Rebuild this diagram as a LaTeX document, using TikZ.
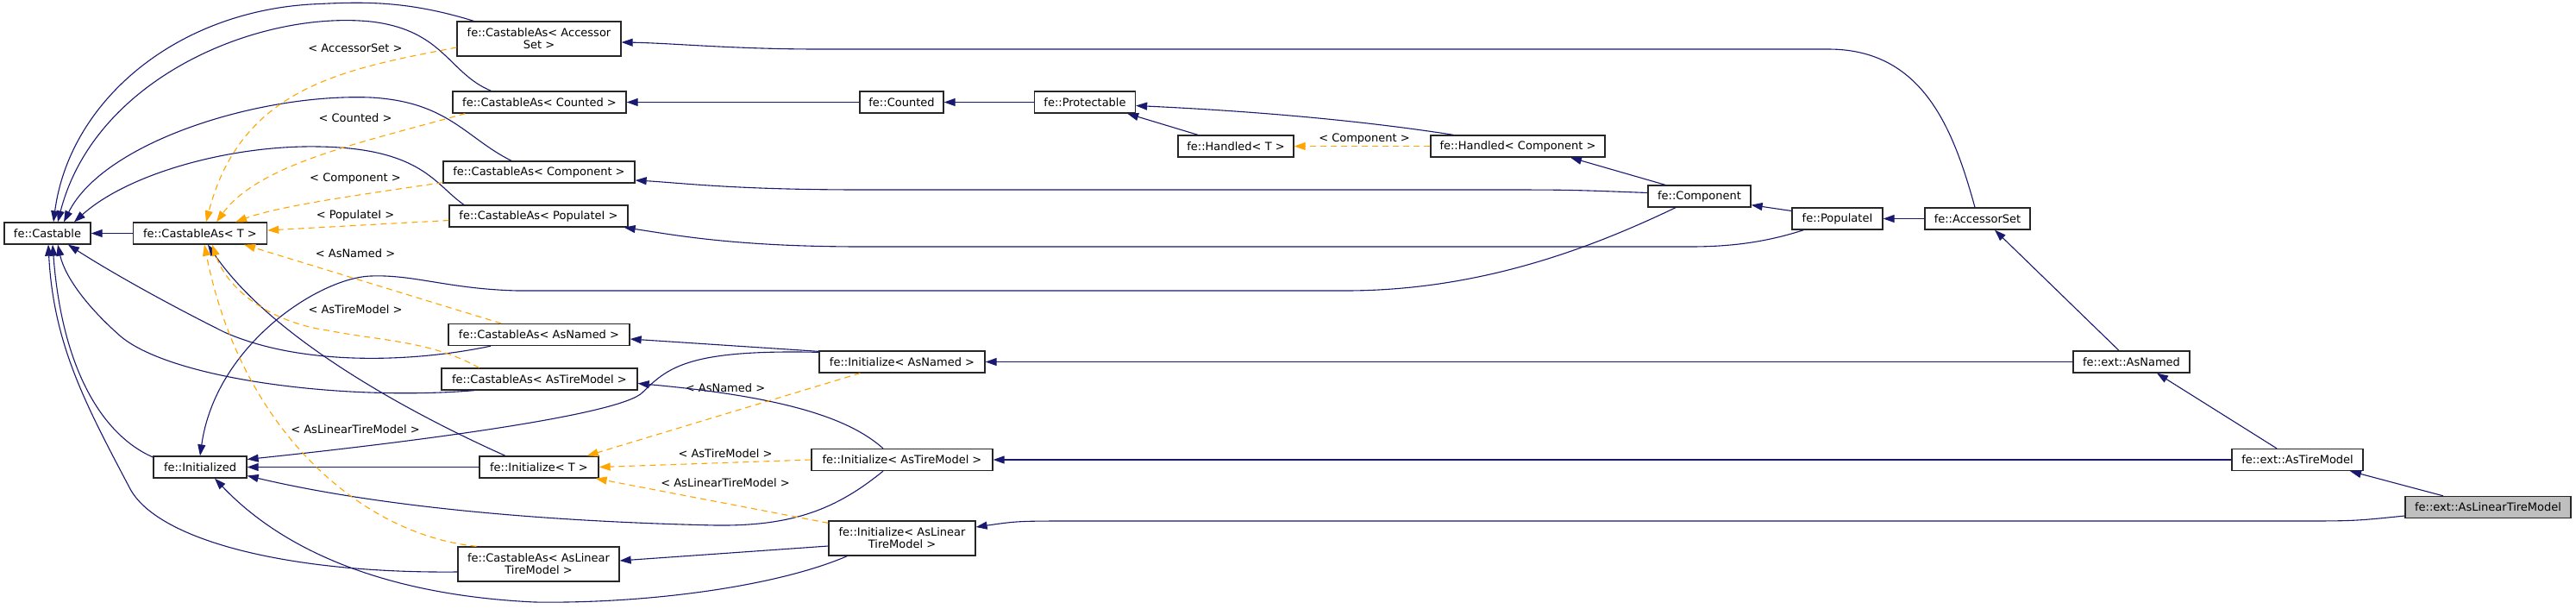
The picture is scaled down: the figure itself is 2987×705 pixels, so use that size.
\documentclass[tikz,border=0pt]{standalone}
\usepackage{fontspec}
\setmainfont{DejaVu Sans}
\usetikzlibrary{arrows.meta,calc}
\definecolor{edgeblue}{RGB}{25,25,112}
\definecolor{tmplorange}{RGB}{255,165,0}
\definecolor{curgray}{RGB}{191,191,191}

\begin{document}
\begin{tikzpicture}[x=1pt,y=-1pt,
  every node/.style={inner sep=0pt,font=\fontsize{13}{14}\selectfont},
  cls/.style={draw=black!85,line width=1.3pt,fill=white,minimum height=25pt,align=center},
  cls2/.style={cls,minimum height=40pt},
  inh/.style={draw=edgeblue,line width=1.1pt,-{Triangle[length=13pt,width=9pt]}},
  tmpl/.style={draw=tmplorange,line width=1.1pt,dash pattern=on 7pt off 5pt,-{Triangle[length=13pt,width=9pt]}}]
\useasboundingbox (0,0) rectangle (2987,705);

% classes
\node[cls,minimum width=100pt] (cast) at (55,270.5) {fe::Castable};
\node[cls,minimum width=155pt] (castT) at (232,270.5) {fe::CastableAs< T >};
\node[cls2,minimum width=190pt] (caAcc) at (625,45) {fe::CastableAs< Accessor\\Set >};
\node[cls,minimum width=201pt] (caCnt) at (625.5,118.5) {fe::CastableAs< Counted >};
\node[cls,minimum width=222pt] (caComp) at (625,199.5) {fe::CastableAs< Component >};
\node[cls,minimum width=207pt] (caPop) at (624.5,250.5) {fe::CastableAs< PopulateI >};
\node[cls,minimum width=210pt] (caNamed) at (625,388) {fe::CastableAs< AsNamed >};
\node[cls,minimum width=227pt] (caTire) at (625.5,439.5) {fe::CastableAs< AsTireModel >};
\node[cls2,minimum width=187pt] (caLin) at (624.5,654) {fe::CastableAs< AsLinear\\TireModel >};
\node[cls,minimum width=108pt] (inited) at (232,541.5) {fe::Initialized};
\node[cls,minimum width=138pt] (initT) at (625,541.5) {fe::Initialize< T >};
\node[cls,minimum width=97pt] (counted) at (1045.5,118.5) {fe::Counted};
\node[cls,minimum width=117pt] (protect) at (1258,118.5) {fe::Protectable};
\node[cls,minimum width=134pt] (handT) at (1433,169.5) {fe::Handled< T >};
\node[cls,minimum width=202pt] (handComp) at (1760,169.5) {fe::Handled< Component >};
\node[cls,minimum width=119pt] (comp) at (1970.5,227.5) {fe::Component};
\node[cls,minimum width=105pt] (pop) at (2130.5,253.5) {fe::PopulateI};
\node[cls,minimum width=122pt] (accSet) at (2293,253.5) {fe::AccessorSet};
\node[cls,minimum width=192pt] (initNamed) at (1046,419.5) {fe::Initialize< AsNamed >};
\node[cls,minimum width=210pt] (initTire) at (1046,533) {fe::Initialize< AsTireModel >};
\node[cls2,minimum width=170pt] (initLin) at (1046,624) {fe::Initialize< AsLinear\\TireModel >};
\node[cls,minimum width=135pt] (extNamed) at (2471.5,419.5) {fe::ext::AsNamed};
\node[cls,minimum width=152pt] (extTire) at (2664,533) {fe::ext::AsTireModel};
\node[cls,minimum width=192pt,fill=curgray] (extLin) at (2885,588) {fe::ext::AsLinearTireModel};

% template labels
\node (lAcc) at (412,56) {< AccessorSet >};
\node (lCnt) at (412,137) {< Counted >};
\node (lComp) at (412,207) {< Component >};
\node (lPop) at (412,250) {< PopulateI >};
\node (lNamed) at (412,294) {< AsNamed >};
\node (lTire) at (412,359) {< AsTireModel >};
\node (lLin) at (412,498) {< AsLinearTireModel >};
\node (lHand) at (1582,161) {< Component >};
\node (liNamed) at (841,450) {< AsNamed >};
\node (liTire) at (841,526) {< AsTireModel >};
\node (liLin) at (841,560) {< AsLinearTireModel >};

% inheritance
\draw[inh] (castT.west) -- (cast.east);
\draw[inh] ($(caAcc.north west)+(20,0)$) .. controls (470,0) and (420,2) .. (360,5) .. controls (200,15) and (80,120) .. ($(cast.north)+(7,0)$);
\draw[inh] ($(caCnt.north)+(-56,0)$) .. controls (520,85) and (515,35) .. (430,25) .. controls (300,12) and (110,90) .. ($(cast.north)+(12,0)$);
\draw[inh] ($(caComp.north)+(-32,0)$) .. controls (540,160) and (520,118) .. (430,113) .. controls (300,108) and (120,165) .. ($(cast.north)+(19,0)$);
\draw[inh] ($(caPop.north)+(-86.5,0)$) .. controls (505,215) and (490,172) .. (370,170) .. controls (270,168) and (150,200) .. ($(cast.north)+(31,0)$);
\draw[inh] ($(caNamed.south)+(-56,0)$) .. controls (480,420) and (350,425) .. (260,385) .. controls (180,345) and (120,310) .. ($(cast.south)+(24,0)$);
\draw[inh] ($(caTire.south)+(-75.5,0)$) .. controls (400,465) and (200,440) .. (140,390) .. controls (100,355) and (75,320) .. ($(cast.south)+(12,0)$);
\draw[inh] ($(inited.west)+(0,-11.5)$) .. controls (120,505) and (72,430) .. ($(cast.south)+(6,0)$);
\draw[inh] ($(caLin.west)+(0,9)$) .. controls (330,665) and (180,625) .. (150,565) .. controls (100,470) and (62,400) .. ($(cast.south)+(1,0)$);
\draw[inh] ($(initT.north)+(-39,0)$) .. controls (500,490) and (320,400) .. ($(castT.south)+(9,0)$);
\draw[inh] (counted.west) -- (caCnt.east);
\draw[inh] (protect.west) -- (counted.east);
\draw[inh] ($(handT.north)+(-44,0)$) -- ($(protect.south east)+(-10,0)$);
\draw[inh] ($(handComp.north west)+(27,0)$) .. controls (1600,143) and (1480,130) .. ($(protect.east)+(0,4)$);
\draw[inh] ($(comp.north)+(-39.5,0)$) -- ($(handComp.south)+(61,0)$);
\draw[inh] ($(comp.west)+(0,-4)$) .. controls (1820,220) .. (1720,220) -- (1000,220) .. controls (850,220) and (790,212) .. ($(caComp.east)+(0,9.5)$);
\draw[inh] ($(comp.south)+(-27.5,0)$) .. controls (1850,285) and (1720,337) .. (1560,337) -- (600,337) .. controls (520,335) and (480,318) .. (430,320) .. controls (370,322) and (250,400) .. (inited.north);
\draw[inh] ($(pop.west)+(0,-9)$) -- ($(comp.south east)+(0,-3)$);
\draw[inh] ($(pop.south west)+(14,0)$) .. controls (2050,280) and (2010,286) .. (1960,286) -- (1000,286) .. controls (850,286) and (780,272) .. ($(caPop.south east)+(-5,0)$);
\draw[inh] (accSet.west) -- (pop.east);
\draw[inh] ($(accSet.north)+(-3,0)$) .. controls (2265,150) and (2230,57) .. (2120,57) -- (950,57) .. controls (850,57) and (780,50) .. ($(caAcc.east)+(0,4)$);
\draw[inh] ($(extNamed.north)+(-14.5,0)$) -- ($(accSet.south)+(20,0)$);
\draw[inh] (extNamed.west) -- (initNamed.east);
\draw[inh] ($(extTire.north)+(-24,0)$) -- ($(extNamed.south)+(29.5,0)$);
\draw[inh] (extTire.west) -- (initTire.east);
\draw[inh] ($(extLin.north)+(-52,0)$) -- ($(extTire.south)+(61,0)$);
\draw[inh] ($(extLin.west)+(0,10)$) .. controls (2730,604) .. (2660,604) -- (1250,604) .. controls (1180,604) .. ($(initLin.east)+(0,-13)$);
\draw[inh] ($(initNamed.north west)+(0,1)$) -- ($(caNamed.east)+(0,5)$);
\draw[inh] ($(initNamed.north west)+(0,2)$) .. controls (800,405) and (775,425) .. (745,455) .. controls (720,480) and (500,510) .. ($(inited.east)+(0,-9)$);
\draw[inh] ($(initTire.north)+(-22,0)$) .. controls (985,485) and (910,460) .. ($(caTire.east)+(0,5)$);
\draw[inh] ($(initTire.south)+(-22,0)$) .. controls (970,590) and (920,610) .. (830,609) .. controls (650,605) and (450,590) .. ($(inited.east)+(0,10)$);
\draw[inh] (initT.west) -- (inited.east);
\draw[inh] ($(initLin.west)+(0,9)$) -- ($(caLin.east)+(0,-4)$);
\draw[inh] ($(initLin.south west)+(22,0)$) .. controls (900,680) and (750,700) .. (620,698) .. controls (450,690) and (330,640) .. ($(inited.south)+(17,0)$);

% template instances
\draw[tmpl] ($(caAcc.west)+(0,10)$) .. controls (400,80) and (280,100) .. ($(castT.north)+(7,0)$);
\draw[tmpl] ($(caCnt.south west)+(15,0)$) .. controls (420,165) and (300,190) .. ($(castT.north)+(19,0)$);
\draw[tmpl] ($(caComp.south west)+(0,-1)$) .. controls (400,228) and (320,240) .. ($(castT.north east)+(-37,0)$);
\draw[tmpl] ($(caPop.west)+(0,5)$) -- ($(castT.east)+(0,-3.5)$);
\draw[tmpl] ($(caNamed.north)+(-44,0)$) -- ($(castT.south east)+(-27,0)$);
\draw[tmpl] ($(caTire.north)+(-70,0)$) .. controls (500,395) and (440,395) .. (380,383) .. controls (320,375) and (265,340) .. ($(castT.south)+(14,0)$);
\draw[tmpl] ($(caLin.north)+(-72,0)$) .. controls (420,620) and (280,500) .. ($(castT.south)+(5,0)$);
\draw[tmpl] (handComp.west) -- (handT.east);
\draw[tmpl] ($(initNamed.south west)+(48,0)$) -- ($(initT.north east)+(-14,0)$);
\draw[tmpl] (initTire.west) -- (initT.east);
\draw[tmpl] ($(initLin.north west)+(0,3)$) -- ($(initT.south east)+(-4,0)$);
\end{tikzpicture}
\end{document}
